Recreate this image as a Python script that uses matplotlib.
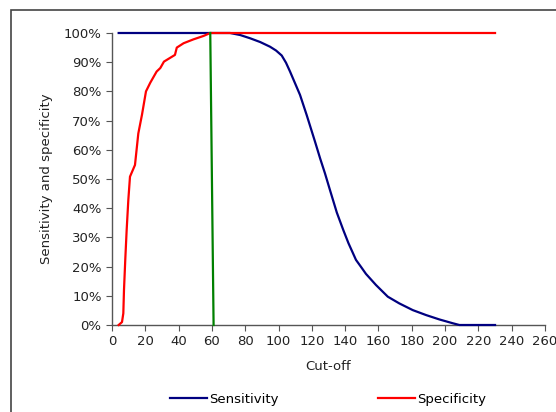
import matplotlib
matplotlib.use("Agg")
import matplotlib.pyplot as plt
from matplotlib.patches import Rectangle
from matplotlib.ticker import FuncFormatter, MultipleLocator

sens_x = [4, 70.9, 77, 82.9, 89, 94.9, 98.5, 101.9, 104.5, 106.9, 112.9, 116.9, 121.9, 125, 127.9,
          131, 135, 138.9, 142, 146.5, 149.9, 152.5, 158.5, 165.6, 172.5, 180.6, 188.6,
          196.6, 204.6, 208.6, 230]
sens_y = [100, 100, 99.3, 98.2, 96.9, 95.3, 94, 92.3, 89.8, 86.8, 78.8, 71.9, 62.8, 57, 51.9,
          46, 38.5, 32.5, 28, 22.3, 19.6, 17.5, 13.7, 9.7, 7.4, 5.1, 3.4,
          1.9, 0.6, 0, 0]

spec_x = [4, 6, 6.8, 7.2, 8, 8.8, 9.8, 10.8, 13.8, 15.8, 18, 20.4, 23, 26.8, 29, 31.2,
          37.8, 38.9, 43, 48.8, 55, 59, 230]
spec_y = [0, 1, 4, 12, 22.8, 32.5, 42.8, 50.8, 54.8, 65.6, 72, 80, 83, 86.8, 88, 90.2,
          92.5, 95, 96.5, 97.8, 99, 100, 100]

cut_x = [59, 61]
cut_y = [100, 0]

fig = plt.figure(figsize=(5.56, 4.12), dpi=100)
ax = fig.add_axes([112/556, 1-325/412, (545-112)/556, (325-33)/412])

ax.plot(sens_x, sens_y, color="#000080", lw=1.6, label="Sensitivity", zorder=3, clip_on=False)
ax.plot(spec_x, spec_y, color="#FF0000", lw=1.6, label="Specificity", zorder=4, clip_on=False)
ax.plot(cut_x, cut_y, color="#008000", lw=1.6, zorder=5, clip_on=False)

ax.set_xlim(0, 260)
ax.set_ylim(0, 100)
ax.xaxis.set_major_locator(MultipleLocator(20))
ax.yaxis.set_major_locator(MultipleLocator(10))
ax.yaxis.set_major_formatter(FuncFormatter(lambda v, p: f"{int(round(v))}%"))
for s in ["top", "right"]:
    ax.spines[s].set_visible(False)
for s in ["left", "bottom"]:
    ax.spines[s].set_color("#555555")
    ax.spines[s].set_linewidth(1.0)
ax.tick_params(direction="out", length=4, color="#555555", labelsize=9.5, labelcolor="#222222")
ax.set_xlabel("Cut-off", fontsize=9.5, color="#222222", labelpad=8)
ax.set_ylabel("Sensitivity and specificity", fontsize=9.5, color="#222222", labelpad=8)

fig.legend(loc="center", bbox_to_anchor=(0.59, 1-399/412), ncol=2, frameon=False,
           fontsize=9.5, handlelength=2.8, handletextpad=0.2, columnspacing=7.5)

fig.patches.append(Rectangle((11/556, -0.1), 1.2, 1-10/412+0.1, transform=fig.transFigure,
                             fill=False, edgecolor="#444444", lw=1.2))

fig.savefig("out.png", dpi=100)
